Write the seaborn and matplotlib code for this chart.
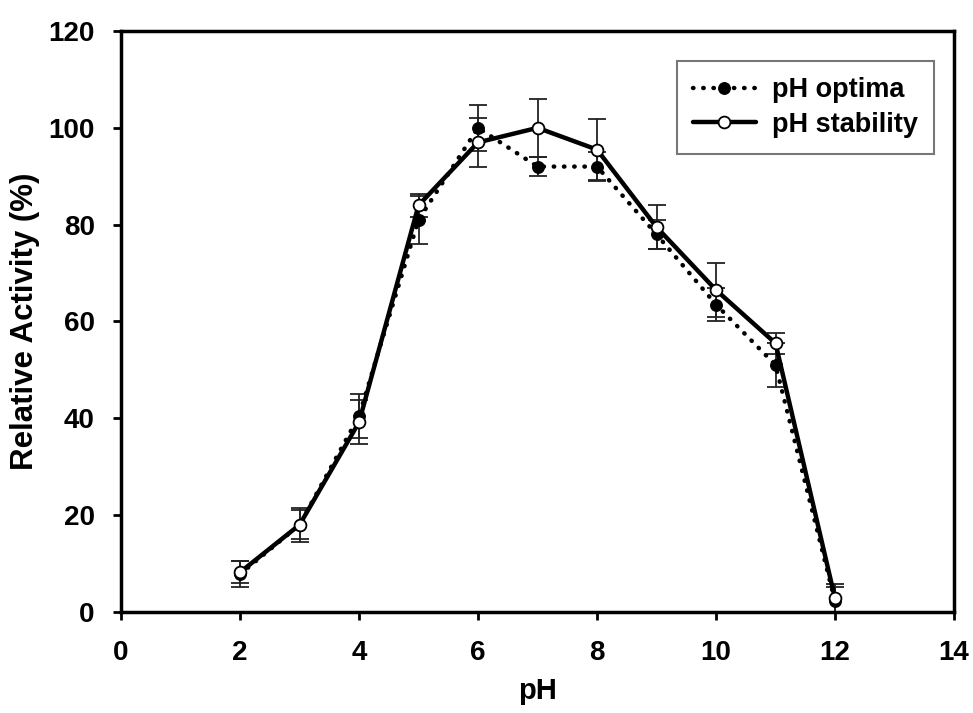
import numpy as np
import pandas as pd
import seaborn as sns
import matplotlib.pyplot as plt

sns.set_style("ticks")
plt.rcParams['font.family'] = ['Liberation Sans', 'DejaVu Sans']
plt.rcParams['font.weight'] = 'bold'
plt.rcParams['text.color'] = 'black'
plt.rcParams['axes.labelcolor'] = 'black'
plt.rcParams['xtick.color'] = 'black'
plt.rcParams['ytick.color'] = 'black'

ph = [2, 3, 4, 5, 6, 7, 8, 9, 10, 11, 12]
optima = [7.8, 18.0, 40.5, 81.0, 100.0, 92.0, 92.0, 78.0, 63.5, 51.0, 2.2]
optima_err = [2.7, 3.5, 4.5, 5.0, 4.8, 2.0, 3.0, 3.0, 3.5, 4.5, 3.0]
stability = [8.2, 18.0, 39.2, 84.0, 97.0, 100.0, 95.5, 79.5, 66.5, 55.5, 2.8]
stability_err = [2.3, 3.0, 4.5, 2.4, 5.0, 6.0, 6.3, 4.5, 5.5, 2.2, 3.0]

df = pd.DataFrame({"pH": ph, "optima": optima, "stability": stability})

fig, ax = plt.subplots(figsize=(9.73, 7.13), dpi=100)
fig.subplots_adjust(left=0.1244, right=0.9805, bottom=0.1417, top=0.9565)

# error bars first so markers sit on top
ax.errorbar(ph, optima, yerr=optima_err, fmt='none', ecolor='#222222',
            elinewidth=1.3, capsize=6.5, capthick=1.3, zorder=1)
ax.errorbar(ph, stability, yerr=stability_err, fmt='none', ecolor='#222222',
            elinewidth=1.3, capsize=6.5, capthick=1.3, zorder=1)

sns.lineplot(data=df, x="pH", y="optima", ax=ax, color='black',
             linestyle=(0, (0.1, 2.2)), linewidth=3.2, dash_capstyle='round',
             marker='o', markersize=8.5, markerfacecolor='black',
             markeredgecolor='black', label='pH optima', zorder=2)
sns.lineplot(data=df, x="pH", y="stability", ax=ax, color='black',
             linestyle='-', linewidth=3.2, marker='o', markersize=8.5,
             markerfacecolor='white', markeredgecolor='black',
             markeredgewidth=1.3, label='pH stability', zorder=3)

ax.set_xlim(0, 14)
ax.set_ylim(0, 120)
ax.set_xticks(np.arange(0, 15, 2))
ax.set_yticks(np.arange(0, 121, 20))
ax.tick_params(axis='both', direction='out', length=6, width=2, labelsize=20)
ax.tick_params(axis='y', pad=13)
ax.tick_params(axis='x', pad=14)
for lab in ax.get_xticklabels() + ax.get_yticklabels():
    lab.set_fontweight('bold')
for sp in ax.spines.values():
    sp.set_visible(True)
    sp.set_linewidth(2.5)
    sp.set_color('black')

ax.set_xlabel("pH", fontsize=21, fontweight='bold', labelpad=8)
ax.set_ylabel("Relative Activity (%)", fontsize=22.5, fontweight='bold', labelpad=6)

leg = ax.legend(loc='upper right', bbox_to_anchor=(0.976, 0.948), borderaxespad=0,
                fontsize=19.5, frameon=True, fancybox=False, handlelength=2.3,
                handletextpad=0.6, borderpad=0.6, labelspacing=0.3)
leg.get_frame().set_edgecolor('#555555')
leg.get_frame().set_linewidth(1.5)
for t in leg.get_texts():
    t.set_fontweight('bold')

fig.savefig("out.png", dpi=100)
